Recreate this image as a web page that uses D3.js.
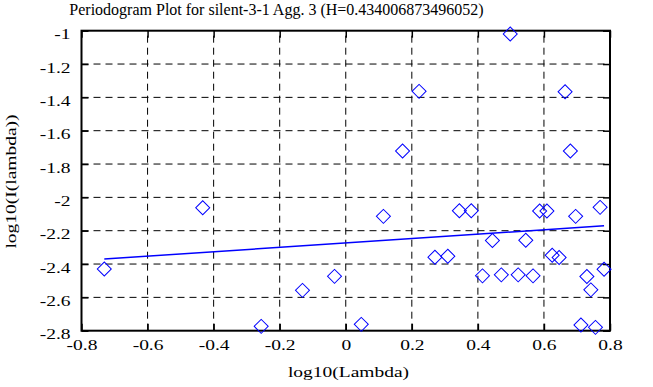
<!DOCTYPE html>
<meta charset="utf-8">
<script src="https://d3js.org/d3.v7.min.js"></script>
<style>
  body { margin: 0; background: #fff; }
  text { font-family: "Liberation Serif", "Times New Roman", serif; fill: #000; }
</style>
<div id="chart"></div>
<script>

// log10(Lambda) and log10(I(lambda)) for each periodogram point
var logLambda = [-0.731, -0.433, -0.256, -0.131, -0.034, 0.047, 0.114, 0.172, 0.222,
  0.270, 0.309, 0.344, 0.380, 0.414, 0.444, 0.471, 0.498, 0.522, 0.545, 0.567,
  0.587, 0.609, 0.625, 0.646, 0.664, 0.680, 0.696, 0.712, 0.730, 0.742, 0.756,
  0.770, 0.782];
var logPower = [-2.430, -2.062, -2.774, -2.558, -2.474, -2.762, -2.114, -1.722, -1.364,
  -2.359, -2.353, -2.080, -2.080, -2.471, -2.259, -2.465, -1.020, -2.465, -2.257, -2.471,
  -2.082, -2.082, -2.347, -2.361, -1.366, -1.722, -2.114, -2.766, -2.475, -2.555, -2.780,
  -2.060, -2.431];

// least squares fit (slope = 1 - 2H)
var fitSlope = 0.132;
var fitIntercept = -2.2735;

var xTicks = [-0.8, -0.6, -0.4, -0.2, 0, 0.2, 0.4, 0.6, 0.8];
var yTicks = [-2.8, -2.6, -2.4, -2.2, -2, -1.8, -1.6, -1.4, -1.2, -1];

var title = "Periodogram Plot for silent-3-1 Agg. 3 (H=0.434006873496052)";
var xTitle = "log10(Lambda)";
var yTitle = "log10(I(lambda))";

var W = 653, H = 387;
var m = {left: 81.5, right: 610, top: 30.7, bottom: 330.7};
var stretch = "scale(1.3,1)";

var svg = d3.select("#chart").append("svg")
  .attr("width", W)
  .attr("height", H);

var x = d3.scaleLinear().domain([-0.8, 0.8]).range([m.left, m.right]);
var y = d3.scaleLinear().domain([-2.8, -1]).range([m.bottom, m.top]);

// plain hyphen minus like the original, no trailing zeros
var fmt = function(d) { return String(+d.toFixed(1)); };

// grid
svg.append("g").selectAll("line")
  .data(xTicks.slice(1, -1))
  .enter().append("line")
    .attr("x1", function(d) { return x(d); })
    .attr("x2", function(d) { return x(d); })
    .attr("y1", m.bottom)
    .attr("y2", m.top)
    .attr("stroke", "#000")
    .attr("stroke-width", 1)
    .attr("stroke-dasharray", "7,5");

svg.append("g").selectAll("line")
  .data(yTicks.slice(1, -1))
  .enter().append("line")
    .attr("x1", m.left)
    .attr("x2", m.right)
    .attr("y1", function(d) { return y(d); })
    .attr("y2", function(d) { return y(d); })
    .attr("stroke", "#000")
    .attr("stroke-width", 1)
    .attr("stroke-dasharray", "7,5");

// inward ticks on all four sides
function ticksOnly(g) {
  g.select(".domain").remove();
  g.selectAll(".tick line").attr("stroke", "#000").attr("stroke-width", 1.5);
}

var xAxis = svg.append("g")
  .attr("transform", "translate(0," + m.bottom + ")")
  .call(d3.axisBottom(x).tickValues(xTicks).tickSize(-7).tickFormat(fmt));
ticksOnly(xAxis);
xAxis.selectAll("text")
  .attr("y", 19).attr("dy", null)
  .attr("transform", stretch)
  .style("font-family", null)
  .attr("font-family", null)
  .style("font-size", "15px");

svg.append("g")
  .attr("transform", "translate(0," + m.top + ")")
  .call(d3.axisTop(x).tickValues(xTicks).tickSize(-7).tickFormat(""))
  .call(ticksOnly);

var yAxis = svg.append("g")
  .attr("transform", "translate(" + m.left + ",0)")
  .call(d3.axisLeft(y).tickValues(yTicks).tickSize(-7).tickFormat(fmt));
ticksOnly(yAxis);
yAxis.selectAll("text")
  .attr("x", 0).attr("dy", null).attr("y", 0)
  .attr("transform", "translate(-11,8) " + stretch)
  .style("font-size", "15px");

svg.append("g")
  .attr("transform", "translate(" + m.right + ",0)")
  .call(d3.axisRight(y).tickValues(yTicks).tickSize(-7).tickFormat(""))
  .call(ticksOnly);

// axis groups carry their own font attrs; drop them so the css serif applies
svg.selectAll("g").attr("font-family", null).attr("font-size", null);

// border
svg.append("rect")
  .attr("x", m.left).attr("y", m.top)
  .attr("width", m.right - m.left).attr("height", m.bottom - m.top)
  .attr("fill", "none")
  .attr("stroke", "#000")
  .attr("stroke-width", 2);

// fitted line
var xExt = d3.extent(logLambda);
svg.append("line")
  .attr("x1", x(xExt[0]))
  .attr("y1", y(fitIntercept + fitSlope * xExt[0]))
  .attr("x2", x(xExt[1]))
  .attr("y2", y(fitIntercept + fitSlope * xExt[1]))
  .attr("stroke", "#0000ff")
  .attr("stroke-width", 1.5);

// points
var diamond = d3.symbol().type(d3.symbolSquare).size(98);
svg.append("g").selectAll("path")
  .data(logLambda)
  .enter().append("path")
    .attr("d", diamond)
    .attr("transform", function(d, i) {
      return "translate(" + x(d) + "," + y(logPower[i]) + ") rotate(45)";
    })
    .attr("fill", "none")
    .attr("stroke", "#0000ff")
    .attr("stroke-width", 1);

// titles
svg.append("text")
  .attr("x", 276.5).attr("y", 15)
  .attr("text-anchor", "middle")
  .style("font-size", "16px")
  .text(title);

svg.append("text")
  .attr("transform", "translate(348.5,377) " + stretch)
  .attr("text-anchor", "middle")
  .style("font-size", "15px")
  .text(xTitle);

svg.append("text")
  .attr("transform", "translate(16,181.5) rotate(-90) " + stretch)
  .attr("text-anchor", "middle")
  .style("font-size", "15px")
  .text(yTitle);

</script>
